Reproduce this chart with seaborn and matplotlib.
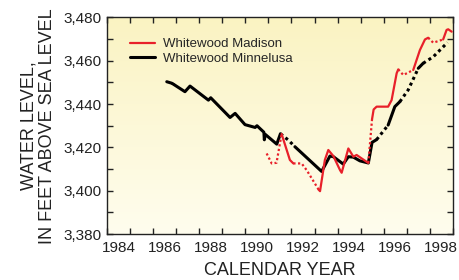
import numpy as np
import pandas as pd
import matplotlib
matplotlib.use('Agg')
import matplotlib.pyplot as plt
from matplotlib.lines import Line2D
from matplotlib.ticker import FixedLocator, MultipleLocator, FuncFormatter
import seaborn as sns

# Whitewood Madison well (red), decimal year / feet above sea level
madison_year = [1990.92, 1991.14, 1991.35, 1991.57, 1991.93, 1992.08, 1992.44, 1992.66,
                1993.18, 1993.24, 1993.45, 1993.60, 1993.82, 1994.11, 1994.18, 1994.47,
                1994.69, 1994.83, 1995.05, 1995.34, 1995.50, 1995.57, 1995.70, 1996.20,
                1996.35, 1996.57, 1996.64, 1996.86, 1997.29, 1997.58, 1997.80, 1997.94,
                1998.16, 1998.59, 1998.74, 1998.81, 1998.96]
madison_level = [3417.2, 3412.6, 3412.9, 3426.2, 3414.2, 3412.6, 3412.6, 3409.5,
                 3400.5, 3399.8, 3414.2, 3418.8, 3416.0, 3409.5, 3408.3, 3419.5,
                 3415.7, 3416.5, 3414.9, 3412.8, 3433.0, 3437.5, 3438.8, 3438.8,
                 3441.8, 3454.2, 3456.0, 3453.4, 3455.7, 3464.9, 3469.8, 3470.6,
                 3468.3, 3469.8, 3474.2, 3474.5, 3473.4]
# segment kinds between consecutive points: m = measured (solid), e = estimated (dotted)
madison_kind = list('eeemmeeemmmmmmmmmmmemmmmmmeemmmeemmm')

# Whitewood Minnelusa well (black)
minnelusa_year = [1986.58, 1986.80, 1986.92, 1987.37, 1987.59, 1988.39, 1988.49, 1989.33,
                  1989.55, 1989.98, 1990.42, 1990.50, 1990.80, 1990.82, 1990.86, 1991.36,
                  1991.52, 1991.86, 1992.15, 1993.31, 1993.67, 1993.82, 1994.25, 1994.47,
                  1994.69, 1994.97, 1995.34, 1995.50, 1995.70, 1996.20, 1996.49, 1996.71,
                  1997.07, 1997.51, 1997.72, 1998.16, 1998.78]
minnelusa_level = [3450.3, 3449.6, 3448.8, 3445.7, 3448.3, 3441.8, 3442.9, 3433.8,
                   3435.7, 3430.5, 3429.2, 3430.0, 3427.0, 3423.5, 3426.0, 3421.5,
                   3426.3, 3423.4, 3420.3, 3408.9, 3416.0, 3415.7, 3412.3, 3415.7,
                   3415.5, 3413.8, 3412.8, 3422.3, 3423.6, 3430.3, 3438.8, 3441.1,
                   3446.5, 3456.5, 3458.8, 3461.8, 3468.4]
minnelusa_kind = list('memmmmmmmmmmmmmmeemmmmmmmmmmemmeemee')

year_labels = ['1984', '1986', '1988', '1990', '1992', '1994', '1996', '1998']


def build_runs(years, levels, kinds, name):
    """Split a series into runs of same-kind segments (shared endpoints)."""
    rows = []
    run = 0
    start = 0
    for i in range(1, len(kinds) + 1):
        if i == len(kinds) or kinds[i] != kinds[start]:
            for j in range(start, i + 1):
                rows.append({'year': years[j], 'level': levels[j], 'well': name,
                             'kind': kinds[start], 'run': f'{name}-{run}'})
            run += 1
            start = i
    return pd.DataFrame(rows)


madison_df = build_runs(madison_year, madison_level, madison_kind, 'Whitewood Madison')
minnelusa_df = build_runs(minnelusa_year, minnelusa_level, minnelusa_kind, 'Whitewood Minnelusa')

sns.set_style('ticks')
plt.rcParams['font.family'] = ['Liberation Sans', 'DejaVu Sans']

fig = plt.figure(figsize=(4.59, 2.8), dpi=100)
ax = fig.add_axes([0.234, 0.164, 0.752, 0.774])

# pale yellow gradient background
top = np.array([250, 243, 194]) / 255
bottom = np.array([255, 253, 238]) / 255
grad = np.linspace(0, 1, 256)[:, None, None]
img = top * (1 - grad) + bottom * grad
ax.imshow(img, extent=[1984, 1999, 3380, 3480], aspect='auto', zorder=0, origin='upper')

dash_map = {'m': '', 'e': (1, 1.1)}
sns.lineplot(data=minnelusa_df, x='year', y='level', units='run', style='kind',
             dashes=dash_map, estimator=None, sort=False, color='black',
             linewidth=2.2, legend=False, ax=ax, zorder=3)
sns.lineplot(data=madison_df, x='year', y='level', units='run', style='kind',
             dashes=dash_map, estimator=None, sort=False, color='#e8202a',
             linewidth=1.6, legend=False, ax=ax, zorder=4)

ax.set_xlim(1984, 1999)
ax.set_ylim(3380, 3480)

# year boundaries as ticks, labels centred in the year
ax.xaxis.set_major_locator(MultipleLocator(1))
ax.xaxis.set_major_formatter(FuncFormatter(lambda v, p: ''))
ax.xaxis.set_minor_locator(FixedLocator([int(y) + 0.5 for y in year_labels]))
ax.set_xticklabels(year_labels, minor=True)
ax.tick_params(axis='x', which='minor', length=0, pad=5, labelsize=11, colors='#222222')

ax.yaxis.set_major_locator(MultipleLocator(20))
ax.yaxis.set_minor_locator(MultipleLocator(10))
ax.yaxis.set_major_formatter(FuncFormatter(lambda v, p: f'{int(v):,}'))
ax.tick_params(axis='y', which='major', labelsize=11, colors='#222222', pad=4.5)
ax.tick_params(which='both', direction='in', top=True, right=True)
ax.tick_params(axis='x', which='major', length=4, width=1, color='#222222')
ax.tick_params(axis='y', which='both', length=4, width=1, color='#222222')

for s in ax.spines.values():
    s.set_color('#222222')
    s.set_linewidth(1)

ax.set_xlabel('CALENDAR YEAR', fontsize=13, color='#222222', labelpad=5)
ax.set_ylabel('WATER LEVEL,\nIN FEET ABOVE SEA LEVEL', fontsize=13,
              color='#222222', labelpad=5, linespacing=1.15)

handles = [Line2D([], [], color='#e8202a', lw=1.6),
           Line2D([], [], color='black', lw=2.2)]
ax.legend(handles, ['Whitewood Madison', 'Whitewood Minnelusa'], loc='upper left',
          bbox_to_anchor=(0.066, 0.905), frameon=False, fontsize=9.5,
          handlelength=1.9, handletextpad=0.6, labelspacing=0.2,
          borderpad=0, borderaxespad=0)

fig.savefig('out.png', dpi=100)
